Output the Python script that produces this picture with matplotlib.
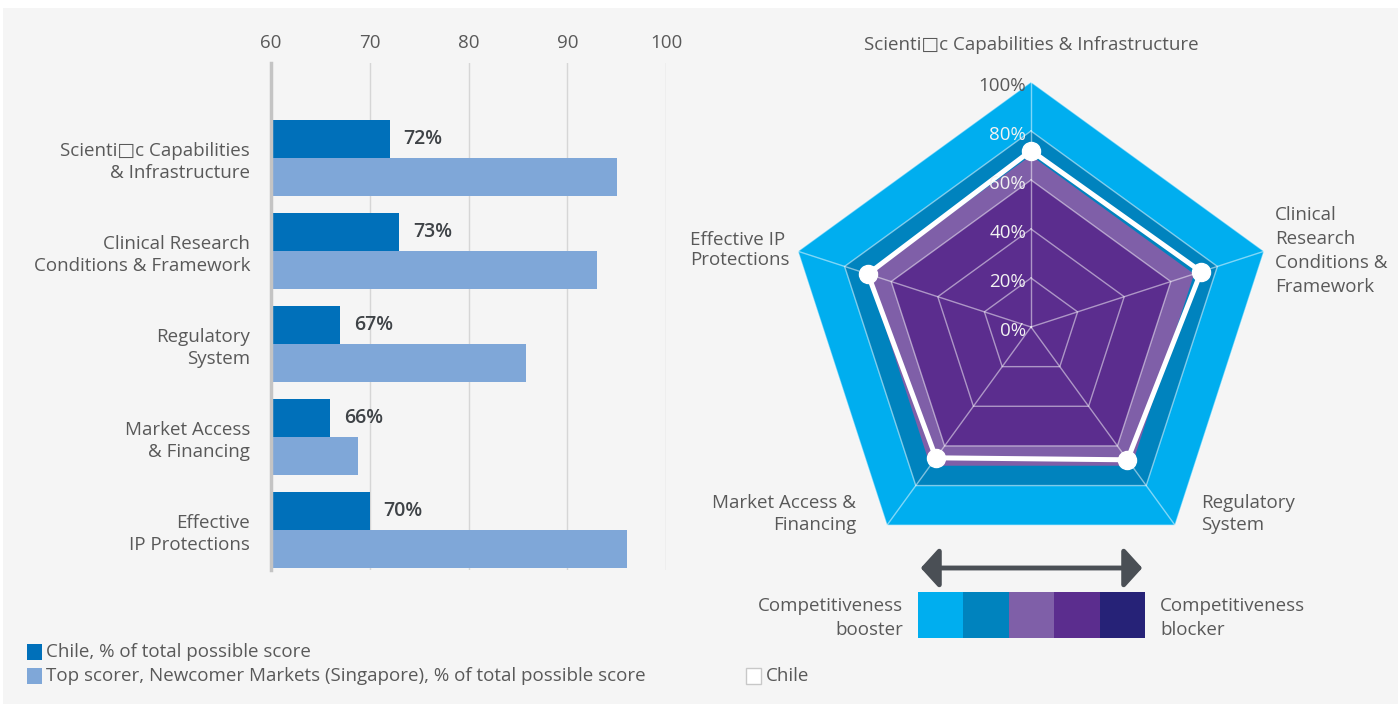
import numpy as np
import matplotlib
matplotlib.use('Agg')
import matplotlib.pyplot as plt
from matplotlib.patches import Rectangle, FancyArrowPatch
from matplotlib.transforms import offset_copy

# canvas size in pixels (dpi 100)
W, H = 1398, 704

# data
categories = ['Scienti\u25a1c Capabilities\n& Infrastructure',
              'Clinical Research\nConditions & Framework',
              'Regulatory\nSystem',
              'Market Access\n& Financing',
              'Effective\nIP Protections']
chile = [72, 73, 67, 66, 70]
top_scorer = [95.0, 93.0, 85.8, 68.8, 96.0]
x_ticks = [60, 70, 80, 90, 100]

radar_labels = ['Scienti\u25a1c Capabilities & Infrastructure',
                'Clinical\nResearch\nConditions &\nFramework',
                'Regulatory\nSystem',
                'Market Access &\nFinancing',
                'Effective IP\nProtections']
radar_ticks = [0, 20, 40, 60, 80, 100]
band_levels = [100, 80, 70, 60]
scale_colors = ['#00AEEF', '#0083BE', '#7F5FA8', '#5B2D8E', '#262277']

legend_labels = ['Chile, % of total possible score',
                 'Top scorer, Newcomer Markets (Singapore), % of total possible score']

plt.rcParams['font.family'] = ['Open Sans', 'DejaVu Sans']
TXT = '#595959'
FS = 13.5


def fx(x):
    return x / W


def fy(y):
    return 1 - y / H


fig = plt.figure(figsize=(W / 100, H / 100), dpi=100, facecolor='#f5f5f5')
# thin white border at top and left, as in the reference
fig.patches.append(Rectangle((0, fy(8)), 1, 8 / H, transform=fig.transFigure,
                             facecolor='white', lw=0, zorder=-5))
fig.patches.append(Rectangle((0, 0), 3 / W, 1, transform=fig.transFigure,
                             facecolor='white', lw=0, zorder=-5))

# ---------------- bar chart ----------------
ax = fig.add_axes([fx(271), fy(570), 395 / W, 507 / H])
ax.set_facecolor('none')
ypos = np.arange(len(categories))
h = 0.408
ax.barh(ypos - h / 2, chile, height=h, color='#0070BA', zorder=2)
ax.barh(ypos + h / 2, top_scorer, height=h, color='#7FA7D8', zorder=2)
for yi, v in zip(ypos, chile):
    ax.annotate(f'{v}%', (v, yi - h / 2), xytext=(14, 0), textcoords='offset pixels',
                va='center', ha='left', fontsize=14, color='#3f4347', fontweight='semibold')

ax.set_xlim(60, 100)
ax.set_ylim(4.43, -1.02)
ax.xaxis.tick_top()
ax.set_xticks(x_ticks)
ax.tick_params(axis='x', length=0, pad=8, labelsize=FS, labelcolor=TXT)
ax.set_yticks(ypos, categories)
ax.tick_params(axis='y', length=0, pad=15, labelsize=FS, labelcolor=TXT)
for lab in ax.get_yticklabels():
    lab.set_linespacing(1.3)
ax.grid(axis='x', color='#d6d6d6', lw=1)
ax.set_axisbelow(True)
for s in ['top', 'right', 'bottom']:
    ax.spines[s].set_visible(False)
ax.spines['left'].set_color('#c4c4c4')
ax.spines['left'].set_linewidth(2.5)

# legend for the bars
for i, (lab, col) in enumerate(zip(legend_labels, ['#0070BA', '#7FA7D8'])):
    yc = 652 + 24 * i
    fig.patches.append(Rectangle((fx(27), fy(yc + 8)), 15 / W, 16 / H,
                                 transform=fig.transFigure, facecolor=col, lw=0))
    fig.text(fx(46), fy(yc), lab, ha='left', va='center', fontsize=FS, color=TXT)

# ---------------- radar ----------------
R = 245
cx, cy = 1031, 327
rax = fig.add_axes([fx(cx - R), fy(cy + R), 2 * R / W, 2 * R / H], projection='polar')
rax.set_theta_offset(np.pi / 2)
rax.set_theta_direction(-1)
rax.set_ylim(0, 100)
rax.axis('off')

theta = np.linspace(0, 2 * np.pi, len(chile), endpoint=False)
closed = np.append(theta, theta[0])
for lvl, col in zip(band_levels, scale_colors):
    rax.fill(closed, [lvl] * len(closed), color=col, lw=0, zorder=1)
for r in radar_ticks[1:]:
    rax.plot(closed, [r] * len(closed), color='white', alpha=0.5, lw=1, zorder=2)
for t in theta:
    rax.plot([t, t], [0, 100], color='white', alpha=0.5, lw=1, zorder=2)
rax.plot(closed, chile + [chile[0]], color='white', lw=3.6, zorder=3)
rax.plot(theta, chile, 'o', color='white', ms=13, zorder=4)

tr = offset_copy(rax.transData, fig=fig, x=-5, y=-4, units='dots')
for r in radar_ticks:
    rax.text(0, r, f'{r}%', transform=tr, ha='right', va='center', fontsize=FS,
             color=TXT if r == 100 else '#f2f2f2', zorder=5)

fig.text(fx(1031), fy(45), radar_labels[0], ha='center', va='center', fontsize=FS, color=TXT)
fig.text(fx(1275), fy(251), radar_labels[1], ha='left', va='center', fontsize=FS,
         color=TXT, linespacing=1.45)
fig.text(fx(1201), fy(514), radar_labels[2], ha='left', va='center', fontsize=FS,
         color=TXT, linespacing=1.33)
fig.text(fx(856), fy(514), radar_labels[3], ha='right', va='center', fontsize=FS,
         color=TXT, linespacing=1.33)
fig.text(fx(690), fy(250), radar_labels[4], ha='left', va='center', fontsize=FS,
         color=TXT, linespacing=1.17)

# colour scale legend
sax = fig.add_axes([fx(918), fy(638), 227 / W, 46 / H])
sax.bar(np.arange(len(scale_colors)), 1, width=1, color=scale_colors)
sax.set_xlim(-0.5, len(scale_colors) - 0.5)
sax.set_ylim(0, 1)
sax.axis('off')

arrow = FancyArrowPatch((fx(918), fy(568)), (fx(1145), fy(568)), transform=fig.transFigure,
                        arrowstyle='<|-|>,head_length=1.0,head_width=1.1',
                        mutation_scale=11, lw=3.5, color='#4a4f55')
fig.patches.append(arrow)

fig.text(fx(903), fy(618), 'Competitiveness\nbooster', ha='right', va='center',
         fontsize=FS, color=TXT, linespacing=1.4)
fig.text(fx(1160), fy(618), 'Competitiveness\nblocker', ha='left', va='center',
         fontsize=FS, color=TXT, linespacing=1.4)

fig.patches.append(Rectangle((fx(746), fy(684)), 15 / W, 16 / H, transform=fig.transFigure,
                             facecolor='white', edgecolor='#c8c8c8', lw=1))
fig.text(fx(766), fy(676), 'Chile', ha='left', va='center', fontsize=FS, color=TXT)

fig.savefig('out.png', dpi=100, facecolor=fig.get_facecolor())
